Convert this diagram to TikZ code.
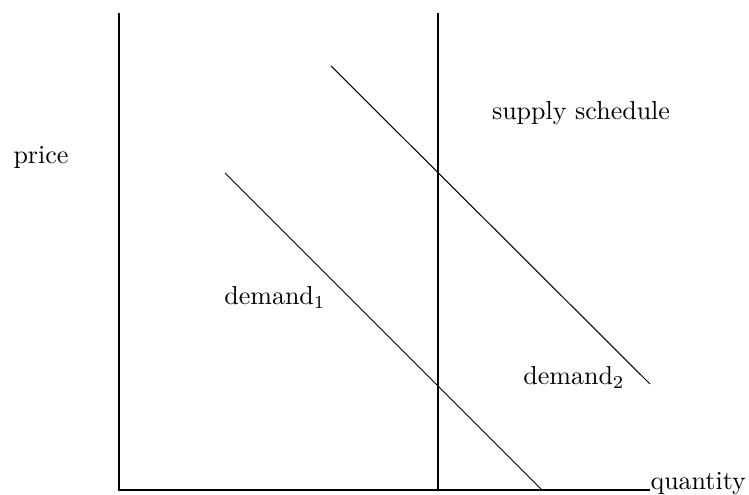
\documentclass[tikz,border=0pt]{standalone}
\begin{document}
\begin{tikzpicture}[x=0.3846pt,y=-0.3846pt,
  axis/.style={line width=0.8pt},
  curve/.style={line width=0.4pt},
  lbl/.style={inner sep=0pt,font=\fontsize{10pt}{12pt}\selectfont}]
\useasboundingbox (0,0) rectangle (749,495);
\coordinate (o) at (119,490);
\coordinate (ytop) at (119,13);
\coordinate (xend) at (650,490);
\coordinate (stop) at (438,13);
\coordinate (sbot) at (438,490);
\coordinate (d1a) at (225,173);
\coordinate (d1b) at (542,490);
\coordinate (d2a) at (331,66);
\coordinate (d2b) at (650,384);
\draw[axis] (ytop) -- (o) -- (xend);
\draw[axis] (stop) -- (sbot);
\draw[curve] (d1a) -- (d1b);
\draw[curve] (d2a) -- (d2b);
\node[lbl,anchor=base west] (q) at (xend) {quantity};
\node[lbl,anchor=base west] (p) at (13,164) {price};
\node[lbl,anchor=base] (s) at (581,120) {supply schedule};
\node[lbl,anchor=base] (n1) at (275,305) {demand$_1$};
\node[lbl,anchor=base] (n2) at (574,385) {demand$_2$};
\end{tikzpicture}
\end{document}
